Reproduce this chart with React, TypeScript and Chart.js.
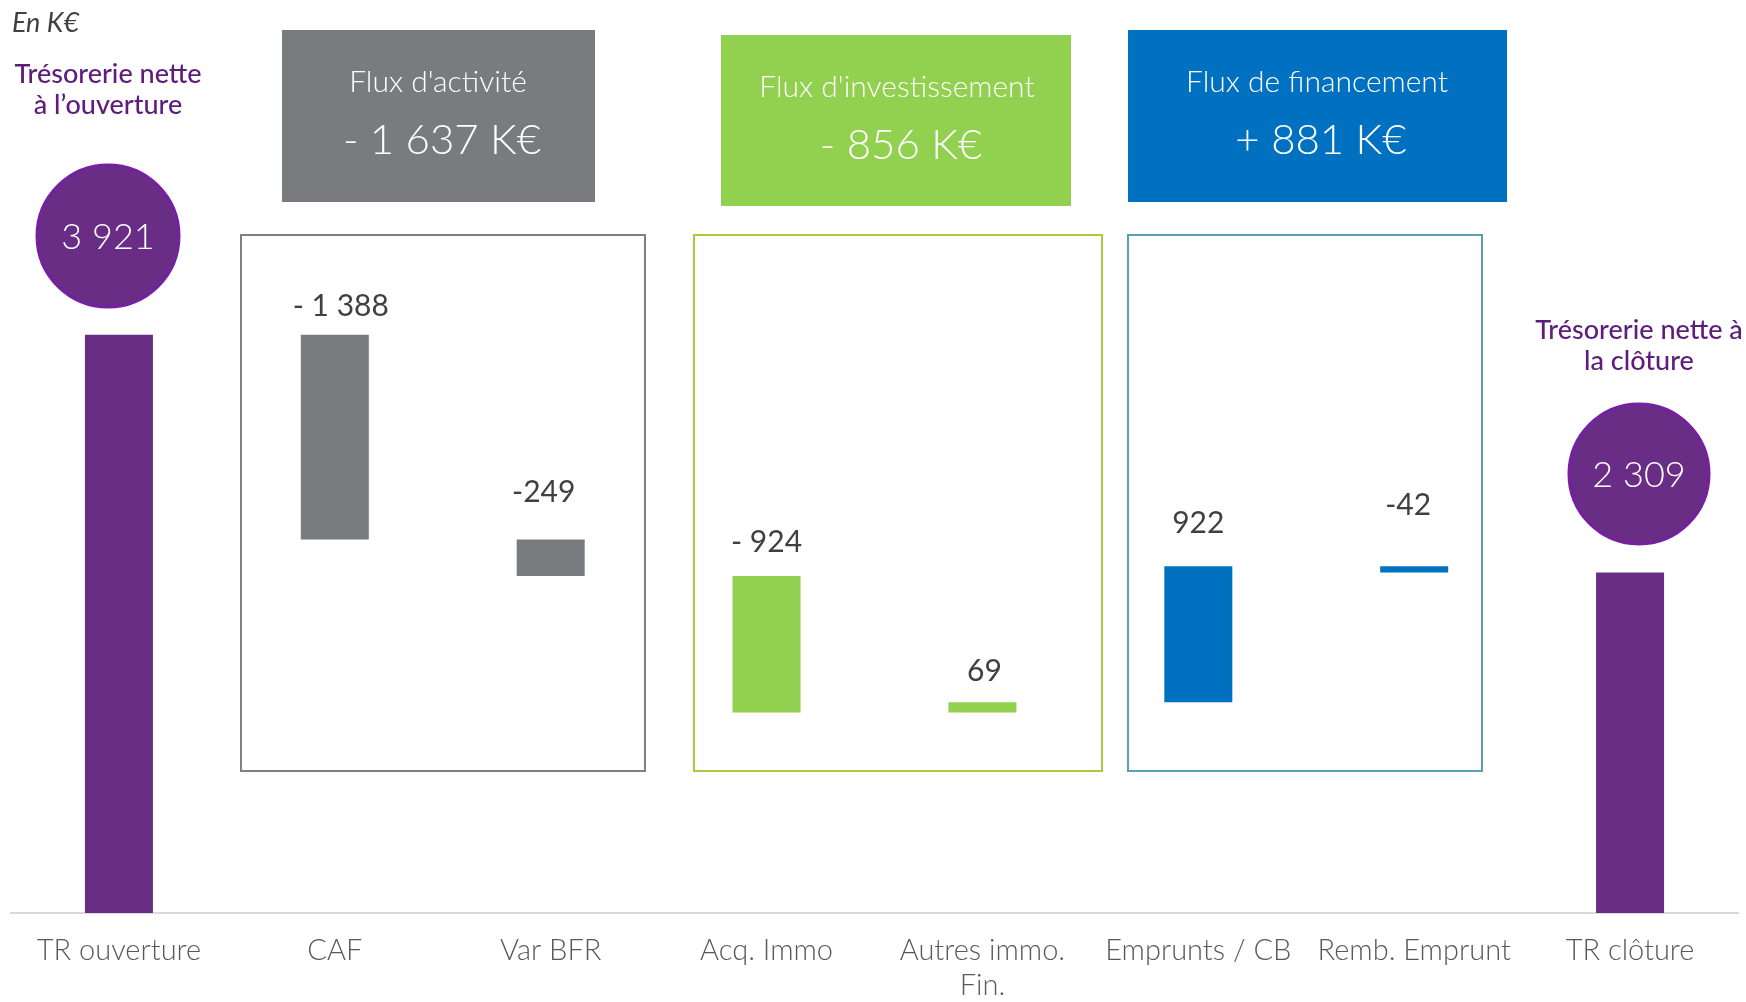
import React, { useEffect, useRef } from "react";
import { Chart, registerables } from "chart.js";

Chart.register(...registerables);

// ---- Data ----
const categories: (string | string[])[] = [
  "TR ouverture",
  "CAF",
  "Var BFR",
  "Acq. Immo",
  ["Autres immo.", "Fin."],
  "Emprunts / CB",
  "Remb. Emprunt",
  "TR clôture",
];
const openingBalance = 3921;
const flowValues = [-1388, -249, -924, 69, 922, -42];
const closingBalance = 2309;
const flowLabels = ["- 1 388", "-249", "- 924", "69", "922", "-42"];
const balanceLabels = ["3 921", "2 309"];
const groupTitles = ["Flux d'activité", "Flux d'investissement", "Flux de financement"];
const groupTotals = ["- 1 637 K€", "- 856 K€", "+ 881 K€"];
const unitLabel = "En K€";
const openingTitle = ["Trésorerie nette", "à l’ouverture"];
const closingTitle = ["Trésorerie nette à", "la clôture"];

// ---- Styles ----
const PURPLE = "#692d86";
const GRAY = "#7a7b7f";
const GREEN = "#92d050";
const BLUE = "#0070c0";
const barColors = [PURPLE, GRAY, GRAY, GREEN, GREEN, BLUE, BLUE, PURPLE];
const labelOffsetsY = [28, 47, 34, 31, 43, 61];
const labelOffsetsX = [6, -7, 0, 2, 0, -6];
const FONT = "Lato, 'Open Sans', sans-serif";

function buildRanges(): [number, number][] {
  const ranges: [number, number][] = [[0, openingBalance]];
  let cur = openingBalance;
  for (const v of flowValues) {
    const next = cur + v;
    ranges.push([Math.min(cur, next), Math.max(cur, next)]);
    cur = next;
  }
  ranges.push([0, closingBalance]);
  return ranges;
}

const overlayPlugin = {
  id: "overlay",
  beforeDatasetsDraw(chart: any) {
    const ctx = chart.ctx as CanvasRenderingContext2D;
    ctx.save();
    ctx.lineWidth = 2;
    const outlines = [
      { x: 241, y: 235, w: 404, h: 536, c: "#808080" },
      { x: 694, y: 235, w: 408, h: 536, c: "#a8cc3c" },
      { x: 1128, y: 235, w: 354, h: 536, c: "#5a9fb5" },
    ];
    for (const o of outlines) {
      ctx.strokeStyle = o.c;
      ctx.strokeRect(o.x, o.y, o.w, o.h);
    }
    ctx.restore();
  },
  afterDatasetsDraw(chart: any) {
    const ctx = chart.ctx as CanvasRenderingContext2D;
    ctx.save();
    ctx.textAlign = "center";
    ctx.textBaseline = "middle";

    // header boxes
    const boxes = [
      { x: 282, y: 30, w: 313, h: 172, c: GRAY, cx: 438 },
      { x: 721, y: 35, w: 350, h: 171, c: GREEN, cx: 897 },
      { x: 1128, y: 30, w: 379, h: 172, c: BLUE, cx: 1317 },
    ];
    boxes.forEach((b, i) => {
      ctx.fillStyle = b.c;
      ctx.fillRect(b.x, b.y, b.w, b.h);
      ctx.fillStyle = "#ffffff";
      ctx.font = `300 30px ${FONT}`;
      ctx.fillText(groupTitles[i], b.cx, b.y + 52);
      ctx.font = `300 42px ${FONT}`;
      ctx.fillText(groupTotals[i], b.cx + 4, b.y + 110);
    });

    // unit label
    ctx.textAlign = "left";
    ctx.fillStyle = "#404040";
    ctx.font = `italic 27px ${FONT}`;
    ctx.fillText(unitLabel, 12, 23);

    // purple titles
    ctx.textAlign = "center";
    ctx.fillStyle = "#5e1c7c";
    ctx.font = `500 27px ${FONT}`;
    ctx.fillText(openingTitle[0], 108, 74);
    ctx.fillText(openingTitle[1], 108, 105);
    ctx.fillText(closingTitle[0], 1639, 330);
    ctx.fillText(closingTitle[1], 1639, 361);

    // circles
    const circles = [
      { x: 108, y: 236, r: 71, t: balanceLabels[0] },
      { x: 1639, y: 474, r: 70, t: balanceLabels[1] },
    ];
    for (const c of circles) {
      ctx.beginPath();
      ctx.arc(c.x, c.y, c.r, 0, Math.PI * 2);
      ctx.fillStyle = PURPLE;
      ctx.fill();
      ctx.lineWidth = 3;
      ctx.strokeStyle = "#7520a0";
      ctx.stroke();
      ctx.fillStyle = "#ffffff";
      ctx.font = `300 36px ${FONT}`;
      ctx.fillText(c.t, c.x, c.y + 1);
    }

    // value labels
    const meta = chart.getDatasetMeta(0);
    ctx.fillStyle = "#404040";
    ctx.font = `400 30px ${FONT}`;
    flowLabels.forEach((t, i) => {
      const el = meta.data[i + 1];
      const top = Math.min(el.y, el.base);
      ctx.fillText(t, el.x + labelOffsetsX[i], top - labelOffsetsY[i]);
    });
    ctx.restore();
  },
};

export default function App() {
  const canvasRef = useRef<HTMLCanvasElement | null>(null);
  useEffect(() => {
    if (!canvasRef.current) return;
    const chart = new Chart(canvasRef.current, {
      type: "bar",
      data: {
        labels: categories as any,
        datasets: [
          {
            data: buildRanges() as any,
            backgroundColor: barColors,
            borderWidth: 0,
            barPercentage: 0.315,
            categoryPercentage: 1,
          },
        ],
      },
      options: {
        animation: false,
        responsive: false,
        devicePixelRatio: 1,
        layout: { padding: { top: 28, left: 11, right: 8, bottom: 0 } },
        plugins: { legend: { display: false }, tooltip: { enabled: false } },
        scales: {
          y: { display: false, min: 0, max: 6000 },
          x: {
            grid: { display: false, drawTicks: false },
            border: { display: true, color: "#d9d9d9", width: 2 },
            ticks: {
              color: "#595959",
              padding: 20,
              maxRotation: 0,
              autoSkip: false,
              font: { family: FONT, size: 29, weight: 300 as any, lineHeight: 1.22 },
            },
            afterFit: (scale: any) => {
              scale.height = 89;
            },
          },
        },
      },
      plugins: [overlayPlugin],
    });
    return () => chart.destroy();
  }, []);
  return (
    <div style={{ position: "absolute", left: 0, top: 0, width: 1746, height: 1002, background: "#fff" }}>
      <canvas ref={canvasRef} width={1746} height={1002} style={{ width: 1746, height: 1002 }} />
    </div>
  );
}
